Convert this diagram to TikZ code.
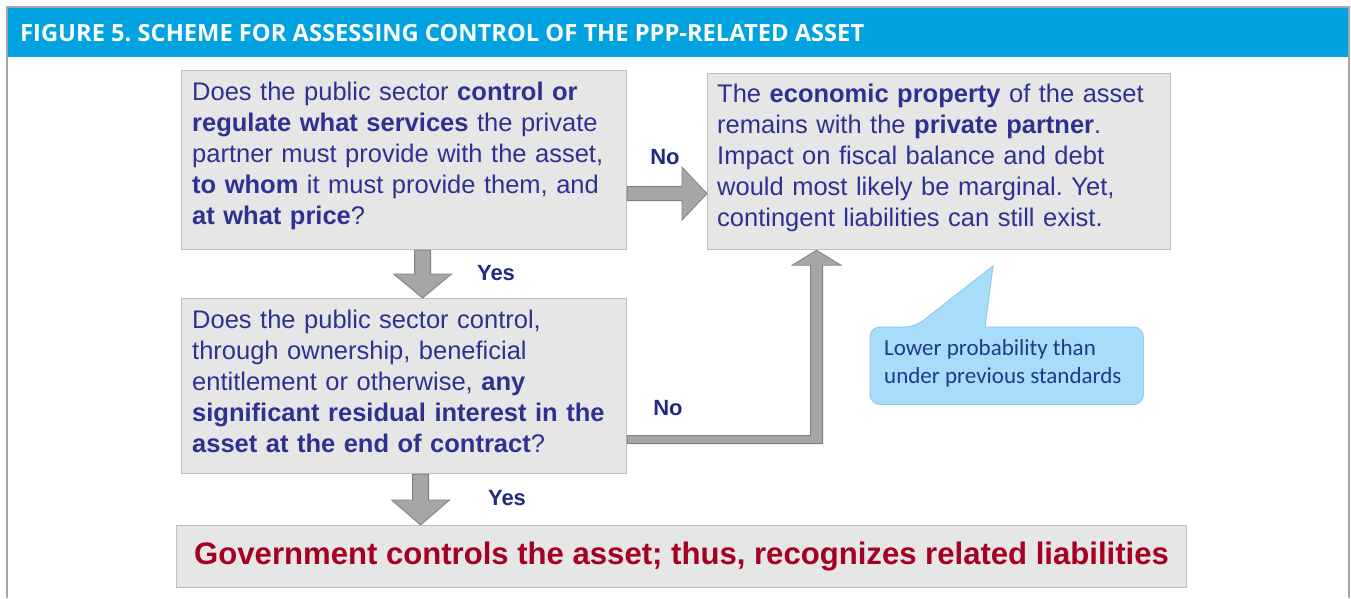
\documentclass[tikz,border=0pt]{standalone}
\usepackage{fontspec}
\setmainfont{Liberation Sans}
\newfontfamily\hdrfont{Open Sans}
\newfontfamily\calfont{Carlito}
\usetikzlibrary{calc}
\frenchspacing
\definecolor{hdrblue}{HTML}{00A3E0}
\definecolor{boxfill}{HTML}{E6E6E6}
\definecolor{boxline}{HTML}{BFBFBF}
\definecolor{txtblue}{HTML}{2E3192}
\definecolor{lblblue}{HTML}{1F2A84}
\definecolor{govred}{HTML}{A50021}
\definecolor{arrfill}{HTML}{A6A6A6}
\definecolor{arrline}{HTML}{808080}
\definecolor{calfill}{HTML}{A9DCF8}
\definecolor{calline}{HTML}{8CCBEF}
\definecolor{caltxt}{HTML}{1F3A8A}
\definecolor{framegray}{HTML}{A6A6A6}
\begin{document}
\frenchspacing
\begin{tikzpicture}[x=1pt,y=-1pt,
  qbox/.style={draw=boxline, fill=boxfill, line width=1.2pt, anchor=north west, inner sep=0pt},
  qtext/.style={anchor=north west, inner sep=0pt, align=left, text=txtblue,
    font=\fontsize{25.5}{31}\selectfont},
  blockarrow/.style={fill=arrfill, draw=arrline, line width=0.8pt, line join=miter},
  lbl/.style={font=\fontsize{22}{26}\selectfont\bfseries, text=lblblue, inner sep=0pt},
  callout/.style={fill=calfill, draw=calline, line width=1pt}]

\useasboundingbox (0,0) rectangle (1351,598);
\fill[white] (0,0) rectangle (1351,598);
\fill[hdrblue] (8,8) rectangle (1349,57);
\draw[framegray, line width=1.5pt] (7,598) -- (7,7) -- (1349,7) -- (1349,598);

\node[anchor=base west, text=white, inner sep=0pt,
  font=\hdrfont\bfseries\fontsize{23.7}{28}\selectfont] (title) at (20,41.5)
  {FIGURE 5. SCHEME FOR ASSESSING CONTROL OF THE PPP-RELATED ASSET};

% boxes
\node[qbox, minimum width=445, minimum height=179] (q1) at (181,70) {};
\node[qbox, minimum width=463, minimum height=176] (res) at (707,73) {};
\node[qbox, minimum width=445, minimum height=175] (q2) at (181,298) {};
\node[qbox, minimum width=1010, minimum height=62, text=govred,
  font=\fontsize{31.1}{36}\selectfont\bfseries] (gov) at (176,525)
  {Government controls the asset; thus, recognizes related liabilities};

% texts
\node[qtext, text width=440] (q1t) at (192,82)
  {Does the public sector \textbf{control or}\\
   \textbf{regulate what services} the private\\
   partner must provide with the asset,\\
   \textbf{to whom} it must provide them, and\\
   \textbf{at what price}?};
\node[qtext, text width=450] (rest) at (717,84)
  {The \textbf{economic property} of the asset\\
   remains with the \textbf{private partner}.\\
   Impact on fiscal balance and debt\\
   would most likely be marginal. Yet,\\
   contingent liabilities can still exist.};
\node[qtext, text width=440] (q2t) at (192,310)
  {Does the public sector control,\\
   through ownership, beneficial\\
   entitlement or otherwise, \textbf{any}\\
   \textbf{significant residual interest in the}\\
   \textbf{asset at the end of contract}?};

% arrows
\coordinate (a1s) at ([xshift=18.5]q1.south);
\coordinate (a1e) at (a1s |- q2.north);
\draw[blockarrow] ([xshift=-8]a1s) -- ([xshift=-8,yshift=24]a1e) -- ([xshift=-29,yshift=24]a1e)
  -- (a1e) -- ([xshift=29,yshift=24]a1e) -- ([xshift=8,yshift=24]a1e) -- ([xshift=8]a1s) -- cycle;

\coordinate (a2s) at ([xshift=16.5]q2.south);
\coordinate (a2e) at (a2s |- gov.north);
\draw[blockarrow] ([xshift=-8]a2s) -- ([xshift=-8,yshift=25]a2e) -- ([xshift=-29,yshift=25]a2e)
  -- (a2e) -- ([xshift=29,yshift=25]a2e) -- ([xshift=8,yshift=25]a2e) -- ([xshift=8]a2s) -- cycle;

\coordinate (a3s) at ([yshift=-33.5]q1.east);
\coordinate (a3e) at (a3s -| res.west);
\draw[blockarrow] ([yshift=7]a3s) -- ([xshift=-25,yshift=7]a3e) -- ([xshift=-25,yshift=26.5]a3e)
  -- (a3e) -- ([xshift=-25,yshift=-26.5]a3e) -- ([xshift=-25,yshift=-7]a3e) -- ([yshift=-7]a3s) -- cycle;

\coordinate (a4s) at ([yshift=-53.5]q2.east);
\coordinate (a4e) at ([xshift=-122.5]res.south);
\coordinate (a4c) at (a4e |- a4s);
\draw[blockarrow] ([yshift=4]a4s) -- ([xshift=-6,yshift=4]a4c) -- ([xshift=-6,yshift=-15]a4e)
  -- ([xshift=-24.5,yshift=-15]a4e) -- (a4e) -- ([xshift=24.5,yshift=-15]a4e)
  -- ([xshift=6,yshift=-15]a4e) -- ([xshift=6,yshift=-4]a4c) -- ([yshift=-4]a4s) -- cycle;

% labels
\node[lbl] (no1) at (665,157) {No};
\node[lbl] (yes1) at (496,273) {Yes};
\node[lbl] (no2) at (668,408) {No};
\node[lbl] (yes2) at (507,498) {Yes};

% callout
\node[inner sep=0pt, minimum width=273, minimum height=77, anchor=north west] (cl) at (870,327) {};
\coordinate (tip) at (993,266);
\draw[callout] ([xshift=45]cl.north west) -- (tip) -- ([xshift=115]cl.north west)
  [rounded corners=10] -- (cl.north east) -- (cl.south east) -- (cl.south west) -- (cl.north west) -- cycle;
\node[anchor=north west, inner sep=0pt, align=left, text=caltxt,
  font=\calfont\fontsize{23}{28}\selectfont] (clt) at (884,339)
  {Lower probability than\\under previous standards};
\end{tikzpicture}
\end{document}
